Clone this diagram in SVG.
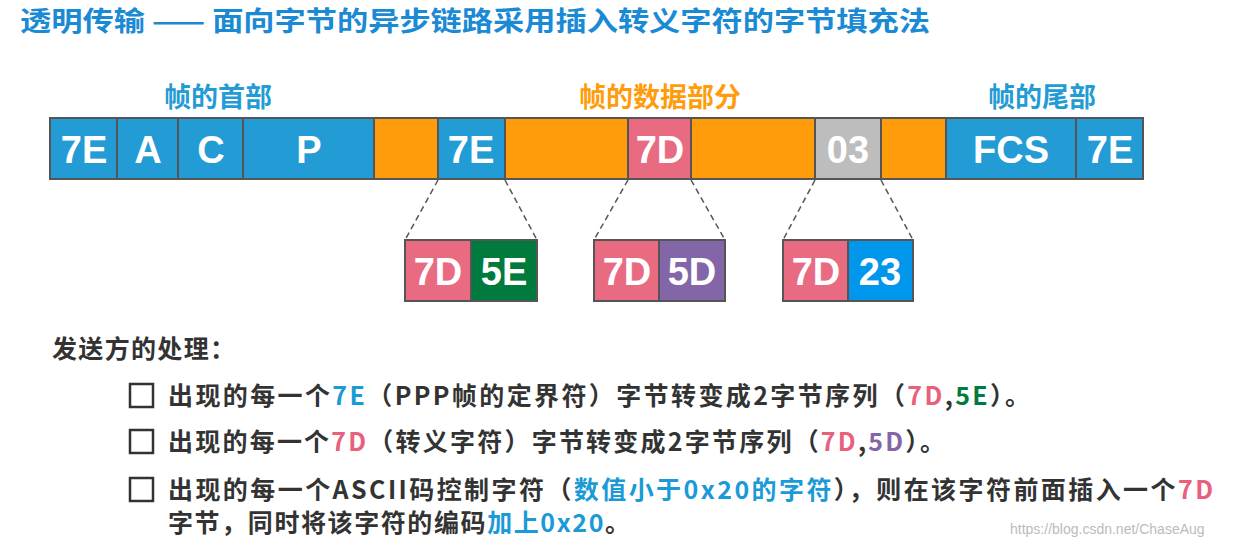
<svg xmlns="http://www.w3.org/2000/svg" width="1233" height="546" viewBox="0 0 1233 546">
<style>
.c{stroke:#555;stroke-width:2}
.b{fill:#239bd5}.o{fill:#ff9c0b}.p{fill:#e86b82}.g{fill:#bdbdbd}.gr{fill:#007a3d}.pu{fill:#8266a8}.bb{fill:#0096ec}
.t{font-family:"Liberation Sans",Arial,sans-serif;font-weight:bold;font-size:38px;fill:#fff;text-anchor:middle}
.h{font-family:"Noto Sans CJK SC",sans-serif;font-weight:bold;font-size:27px;text-anchor:middle}
.l{font-family:"Noto Sans CJK SC",sans-serif;font-weight:bold;font-size:25px;fill:#333}
.d{stroke:#555;stroke-width:1.5;stroke-dasharray:6,4;fill:none}
.k{fill:none;stroke:#333;stroke-width:2.5}
.bl{fill:#1a9ad6}.pk{fill:#e8607c}.gn{fill:#007a3d}.pp{fill:#8266a8}
</style>
<rect width="1233" height="546" fill="#fff"/>
<text x="20" y="31" font-family="Noto Sans CJK SC,sans-serif" font-weight="bold" font-size="27" fill="#1a8ad4" textLength="910" lengthAdjust="spacingAndGlyphs">透明传输 —— 面向字节的异步链路采用插入转义字符的字节填充法</text>
<g id="labels">
<text class="h" x="218" y="107" fill="#239bd5">帧的首部</text>
<text class="h" x="660" y="107" fill="#ff9c0b">帧的数据部分</text>
<text class="h" x="1042" y="107" fill="#239bd5">帧的尾部</text>
</g>
<g id="frame">
<rect class="c b" x="50" y="118" width="67" height="61"/><text class="t" x="84" y="163">7E</text>
<rect class="c b" x="117" y="118" width="61" height="61"/><text class="t" x="148" y="163">A</text>
<rect class="c b" x="178" y="118" width="65" height="61"/><text class="t" x="211" y="163">C</text>
<rect class="c b" x="243" y="118" width="131" height="61"/><text class="t" x="309" y="163">P</text>
<rect class="c o" x="374" y="118" width="64" height="61"/>
<rect class="c b" x="438" y="118" width="67" height="61"/><text class="t" x="471" y="163">7E</text>
<rect class="c o" x="505" y="118" width="123" height="61"/>
<rect class="c p" x="628" y="118" width="63" height="61"/><text class="t" x="660" y="163">7D</text>
<rect class="c o" x="691" y="118" width="124" height="61"/>
<rect class="c g" x="815" y="118" width="66" height="61"/><text class="t" x="848" y="163">03</text>
<rect class="c o" x="881" y="118" width="65" height="61"/>
<rect class="c b" x="946" y="118" width="130" height="61"/><text class="t" x="1011" y="163">FCS</text>
<rect class="c b" x="1076" y="118" width="67" height="61"/><text class="t" x="1110" y="163">7E</text>
</g>
<g id="connectors">
<path class="d" d="M438 180L405 240M505 180L537 240M628 180L594 240M691 180L725 240M815 180L783 240M881 180L913 240"/>
</g>
<g id="esc1">
<rect class="c p" x="405" y="240" width="66" height="61"/><text class="t" x="438" y="285">7D</text>
<rect class="c gr" x="471" y="240" width="66" height="61"/><text class="t" x="504" y="285">5E</text>
</g>
<g id="esc2">
<rect class="c p" x="594" y="240" width="65" height="61"/><text class="t" x="627" y="285">7D</text>
<rect class="c pu" x="659" y="240" width="66" height="61"/><text class="t" x="692" y="285">5D</text>
</g>
<g id="esc3">
<rect class="c p" x="783" y="240" width="65" height="61"/><text class="t" x="816" y="285">7D</text>
<rect class="c bb" x="848" y="240" width="65" height="61"/><text class="t" x="880" y="285">23</text>
</g>
<g id="notes">
<text class="l" x="52" y="358" textLength="183">发送方的处理：</text>
<rect class="k" x="130" y="384" width="23" height="23"/>
<rect class="k" x="130" y="430" width="23" height="23"/>
<rect class="k" x="130" y="478" width="23" height="23"/>
<text class="l" x="168" y="405" textLength="862">出现的每一个<tspan class="bl">7E</tspan>（PPP帧的定界符）字节转变成2字节序列（<tspan class="pk">7D</tspan>,<tspan class="gn">5E</tspan>）。</text>
<text class="l" x="168" y="451" textLength="777">出现的每一个<tspan class="pk">7D</tspan>（转义字符）字节转变成2字节序列（<tspan class="pk">7D</tspan>,<tspan class="pp">5D</tspan>）。</text>
<text class="l" x="168" y="499" textLength="1045">出现的每一个ASCII码控制字符（<tspan class="bl">数值小于0x20的字符</tspan>），则在该字符前面插入一个<tspan class="pk">7D</tspan></text>
<text class="l" x="168" y="532" textLength="462">字节，同时将该字符的编码<tspan class="bl">加上0x20</tspan>。</text>
</g>
<text x="1010" y="534" font-family="Liberation Sans,sans-serif" font-size="14" fill="#bbb">https://blog.csdn.net/ChaseAug</text>
</svg>
